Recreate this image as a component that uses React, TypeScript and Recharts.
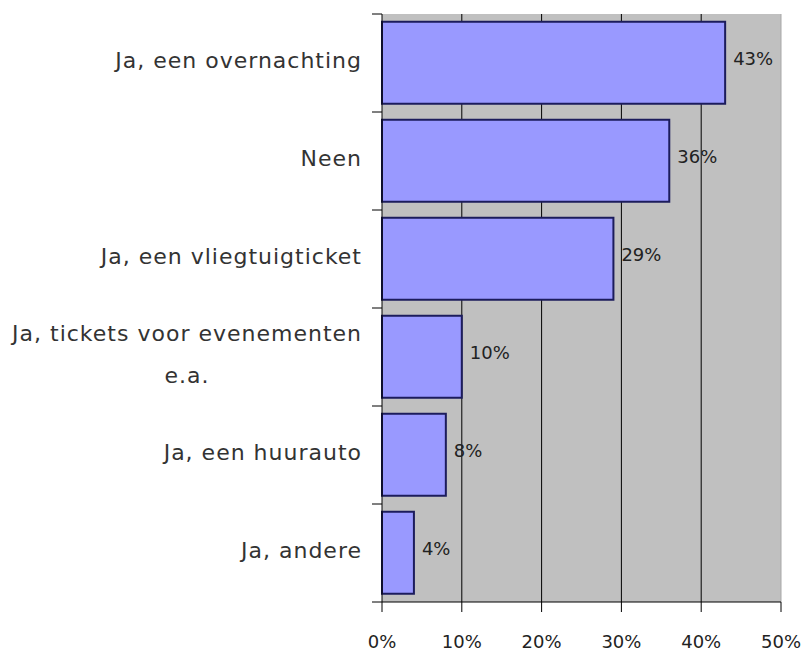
import { useLayoutEffect, useRef, useState } from "react";
import {
  BarChart,
  Bar,
  XAxis,
  YAxis,
  CartesianGrid,
  LabelList,
  ReferenceLine,
} from "recharts";

const categories = [
  "Ja, een overnachting",
  "Neen",
  "Ja, een vliegtuigticket",
  "Ja, tickets voor evenementen\ne.a.",
  "Ja, een huurauto",
  "Ja, andere",
];
const shares = [43, 36, 29, 10, 8, 4];
const xTicks = [0, 10, 20, 30, 40, 50];

const data = categories.map((name, i) => ({ name, share: shares[i] }));

const W = 803;
const H = 651;
const MARGIN = { top: 14, right: 22, bottom: 0, left: 0 };
const Y_WIDTH = 382;
const X_HEIGHT = 49;
const PLOT_H = H - MARGIN.top - MARGIN.bottom - X_HEIGHT;
const BAND = PLOT_H / categories.length;
const FONT = "'DejaVu Sans', Verdana, sans-serif";

function CategoryTick(props: any) {
  const { y, payload, index } = props;
  const axisX = MARGIN.left + Y_WIDTH;
  const textX = axisX - 20;
  const lines = String(payload.value).split("\n");
  const firstRef = useRef<SVGTextElement>(null);
  const [w, setW] = useState(0);
  useLayoutEffect(() => {
    if (firstRef.current) setW(firstRef.current.getComputedTextLength());
  }, []);
  const gap = 42;
  const startY = y - 3 - ((lines.length - 1) * gap) / 2;
  return (
    <g>
      <line x1={axisX - 10} x2={axisX} y1={y - BAND / 2} y2={y - BAND / 2} stroke="#000" />
      {index === categories.length - 1 && (
        <line x1={axisX - 10} x2={axisX} y1={y + BAND / 2} y2={y + BAND / 2} stroke="#000" />
      )}
      {lines.map((line, i) => (
        <text
          key={i}
          ref={i === 0 ? firstRef : undefined}
          x={i === 0 || lines.length === 1 ? textX : textX - w / 2}
          y={startY + i * gap}
          dy="0.35em"
          textAnchor={i === 0 ? "end" : "middle"}
          fill="#333"
          fontSize={22}
          letterSpacing={1}
          fontFamily={FONT}
        >
          {line}
        </text>
      ))}
    </g>
  );
}

function ValueLabel(props: any) {
  const { x, y, width, height, value } = props;
  return (
    <text
      x={x + width + 8}
      y={y + height / 2 - 4}
      dy="0.35em"
      fill="#222"
      fontSize={18}
      fontFamily={FONT}
    >
      {value}%
    </text>
  );
}

export default function App() {
  return (
    <div style={{ position: "absolute", left: 0, top: 0, width: W, height: H, background: "#fff" }}>
      <BarChart
        width={W}
        height={H}
        data={data}
        layout="vertical"
        margin={MARGIN}
        barCategoryGap="8%"
      >
        <CartesianGrid
          horizontal={false}
          verticalValues={[10, 20, 30, 40]}
          stroke="#000"
          fill="#c0c0c0"
          fillOpacity={1}
        />
        <ReferenceLine x={50} stroke="#a8a8a8" />
        <XAxis
          type="number"
          domain={[0, 50]}
          ticks={xTicks}
          tickFormatter={(v: number) => `${v}%`}
          height={X_HEIGHT}
          tickSize={10}
          tickMargin={23}
          axisLine={{ stroke: "#000" }}
          tickLine={{ stroke: "#000" }}
          tick={{ fill: "#222", fontSize: 18, fontFamily: FONT }}
          interval={0}
        />
        <YAxis
          type="category"
          dataKey="name"
          width={Y_WIDTH}
          tickSize={10}
          tickMargin={10}
          tickLine={false}
          axisLine={{ stroke: "#000" }}
          tick={<CategoryTick />}
          interval={0}
        />
        <Bar
          dataKey="share"
          fill="#9999ff"
          stroke="#1c1c5c"
          strokeWidth={2}
          isAnimationActive={false}
        >
          <LabelList dataKey="share" content={<ValueLabel />} />
        </Bar>
      </BarChart>
    </div>
  );
}
